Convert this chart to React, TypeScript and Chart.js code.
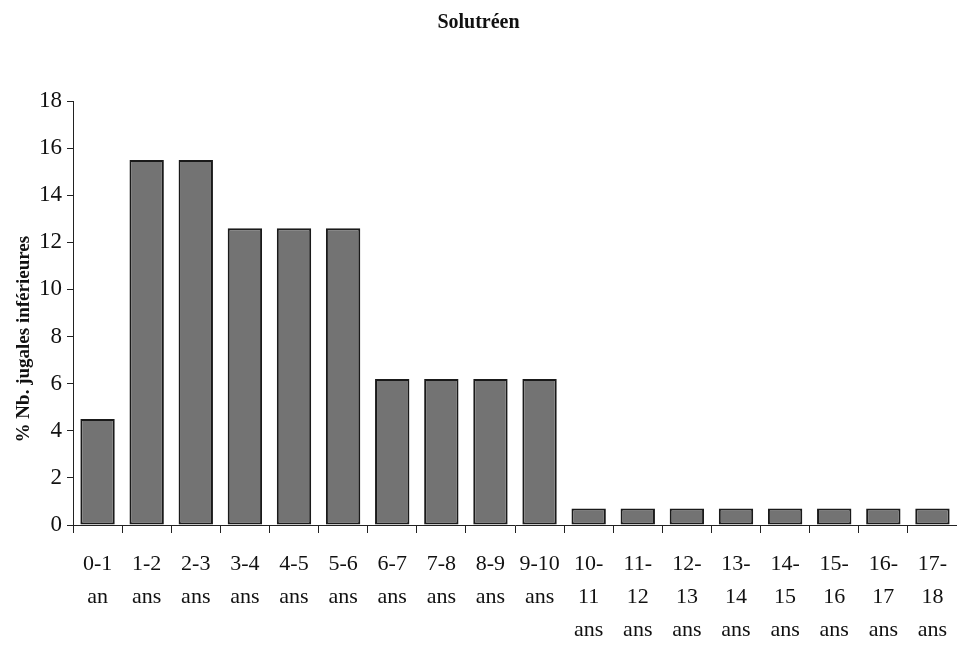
import React, { useEffect, useRef } from "react";
import { Chart, registerables } from "chart.js";

Chart.register(...registerables);

const chartTitle = "Solutréen";
const yAxisTitle = "% Nb. jugales inférieures";
const categories: string[][] = [
  ["0-1", "an"],
  ["1-2", "ans"],
  ["2-3", "ans"],
  ["3-4", "ans"],
  ["4-5", "ans"],
  ["5-6", "ans"],
  ["6-7", "ans"],
  ["7-8", "ans"],
  ["8-9", "ans"],
  ["9-10", "ans"],
  ["10-", "11", "ans"],
  ["11-", "12", "ans"],
  ["12-", "13", "ans"],
  ["13-", "14", "ans"],
  ["14-", "15", "ans"],
  ["15-", "16", "ans"],
  ["16-", "17", "ans"],
  ["17-", "18", "ans"],
];
const values: number[] = [
  4.5, 15.5, 15.5, 12.6, 12.6, 12.6, 6.2, 6.2, 6.2, 6.2, 0.7, 0.7, 0.7, 0.7, 0.7, 0.7, 0.7, 0.7,
];
const yMin = 0;
const yMax = 18;
const yStep = 2;

const SERIF = "'Liberation Serif', 'Times New Roman', serif";

export default function App() {
  const ref = useRef<HTMLCanvasElement | null>(null);

  useEffect(() => {
    const canvas = ref.current;
    if (!canvas) return;
    const chart = new Chart(canvas, {
      type: "bar",
      data: {
        labels: categories,
        datasets: [
          {
            data: values,
            backgroundColor: "#737373",
            borderColor: "#1a1a1a",
            borderWidth: 2,
            borderSkipped: false,
            barPercentage: 0.7,
            categoryPercentage: 1,
          },
        ],
      },
      options: {
        responsive: false,
        animation: false,
        layout: { padding: 0 },
        plugins: {
          legend: { display: false },
          tooltip: { enabled: false },
          title: {
            display: true,
            text: chartTitle,
            color: "#111",
            font: { family: SERIF, size: 20, weight: "bold", lineHeight: 1.2 },
            padding: { top: 11, bottom: 66 },
          },
        },
        scales: {
          x: {
            offset: true,
            grid: {
              offset: true,
              drawOnChartArea: false,
              drawTicks: true,
              tickLength: 8,
              color: "#222",
            },
            border: { display: true, color: "#222", width: 1 },
            ticks: {
              color: "#111",
              font: { family: SERIF, size: 22, lineHeight: 1.5 },
              padding: 15,
              maxRotation: 0,
              minRotation: 0,
              autoSkip: false,
            },
            afterFit: (scale: any) => {
              scale.height = 120;
              scale.paddingLeft = 0;
              scale.paddingRight = 0;
            },
          },
          y: {
            min: yMin,
            max: yMax,
            ticks: {
              stepSize: yStep,
              color: "#111",
              font: { family: SERIF, size: 23 },
              padding: 5,
            },
            grid: {
              drawOnChartArea: false,
              drawTicks: true,
              tickLength: 6,
              color: "#222",
            },
            border: { display: true, color: "#222", width: 1 },
            title: {
              display: true,
              text: yAxisTitle + "           ",
              color: "#111",
              font: { family: SERIF, size: 19, weight: "bold", lineHeight: 1.2 },
              padding: { top: 13, bottom: 0 },
            },
            afterFit: (scale: any) => {
              scale.width = 73;
            },
          },
        },
      },
    });
    return () => chart.destroy();
  }, []);

  return (
    <div style={{ position: "fixed", left: 0, top: 0, width: 957, height: 645, background: "#fff" }}>
      <canvas ref={ref} width={957} height={645} style={{ display: "block" }} />
    </div>
  );
}
